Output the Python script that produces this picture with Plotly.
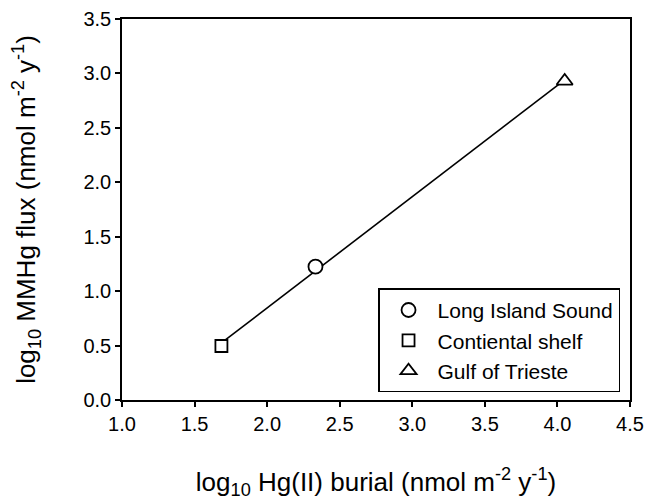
import numpy as np
import plotly.graph_objects as go

sites = ["Long Island Sound", "Contiental shelf", "Gulf of Trieste"]
hg_burial = [2.333, 1.685, 4.05]
mmhg_flux = [1.225, 0.496, 2.93]
symbols = ["circle", "square", "triangle-up"]
marker_sizes = [14, 12, 14]

x_ticks = [1.0, 1.5, 2.0, 2.5, 3.0, 3.5, 4.0, 4.5]
y_ticks = [0.0, 0.5, 1.0, 1.5, 2.0, 2.5, 3.0, 3.5]

fit = np.polyfit(hg_burial, mmhg_flux, 1)
xl = np.array([min(hg_burial), max(hg_burial)])
yl = np.polyval(fit, xl)

fig = go.Figure()
fig.add_trace(go.Scatter(x=xl, y=yl, mode="lines", line=dict(color="black", width=1.6),
                         showlegend=False, hoverinfo="skip"))
for i, s in enumerate(sites):
    fig.add_trace(go.Scatter(
        x=[hg_burial[i]], y=[mmhg_flux[i]], mode="markers", name=s,
        marker=dict(symbol=symbols[i], size=marker_sizes[i], color="white",
                    line=dict(color="black", width=1.8)),
    ))

font_family = "Liberation Sans, Arial, sans-serif"
axis_common = dict(showgrid=False, zeroline=False, tickcolor="black", tickwidth=1.5,
                   ticklen=5, automargin=False)
fig.update_layout(
    width=645, height=500,
    margin=dict(l=122, r=15, t=19, b=100, autoexpand=False),
    paper_bgcolor="white", plot_bgcolor="white",
    font=dict(family=font_family, color="black", size=20),
    showlegend=True,
    legend=dict(
        x=0.504, y=0.293, xanchor="left", yanchor="top",
        bordercolor="black", borderwidth=1.5, bgcolor="white",
        font=dict(size=21, family=font_family),
        itemwidth=48,
    ),
    xaxis=dict(
        range=[1.0, 4.5], tickvals=x_ticks, ticktext=[f"{v:.1f}" for v in x_ticks],
        showline=True, linecolor="black", linewidth=1.5, mirror=True,
        ticks="outside", tickfont=dict(size=20),
        title=dict(text="log<sub>10</sub> Hg(II) burial (nmol m<sup>-2</sup> y<sup>-1</sup>)",
                   font=dict(size=26), standoff=43),
        **axis_common,
    ),
    xaxis2=dict(
        range=[1.0, 4.5], tickvals=x_ticks, overlaying="x", anchor="y", side="bottom",
        showticklabels=False, showline=False, ticks="inside", **axis_common,
    ),
    yaxis=dict(
        range=[0.0, 3.5], tickvals=y_ticks, ticktext=[f"{v:.1f}" for v in y_ticks],
        showline=True, linecolor="black", linewidth=1.5, mirror=True,
        ticks="outside", tickfont=dict(size=20),
        title=dict(text="log<sub>10</sub> MMHg flux (nmol m<sup>-2</sup> y<sup>-1</sup>)",
                   font=dict(size=26), standoff=40),
        **axis_common,
    ),
    yaxis2=dict(
        range=[0.0, 3.5], tickvals=y_ticks, overlaying="y", anchor="x", side="left",
        showticklabels=False, showline=False, ticks="inside", **axis_common,
    ),
)

fig.write_html("out.html")
